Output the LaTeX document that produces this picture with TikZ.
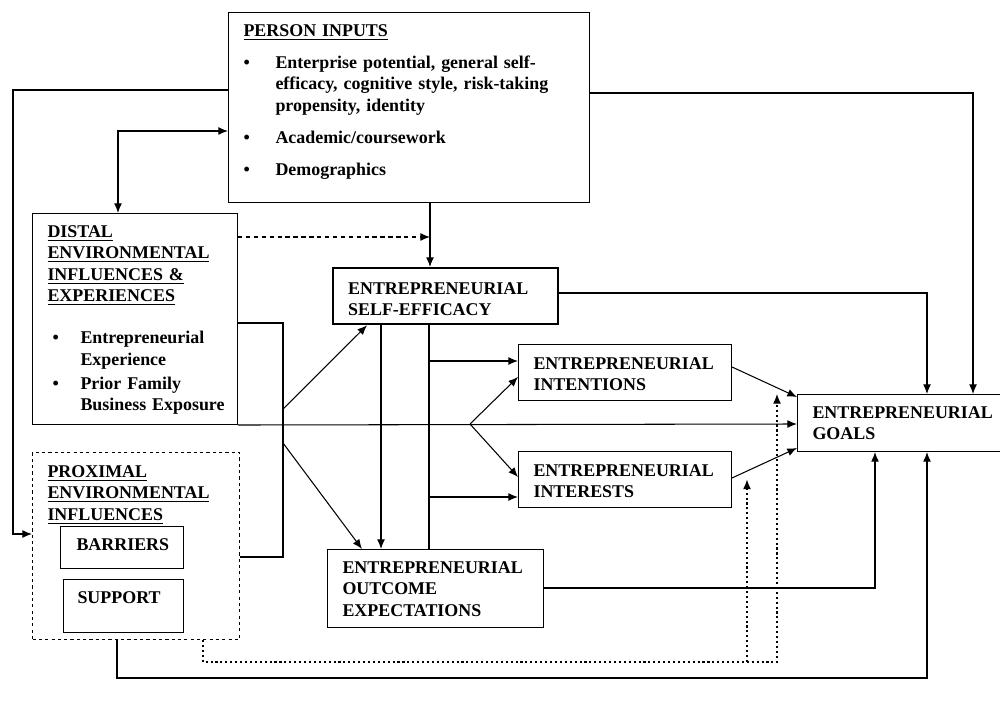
\documentclass[tikz,border=0pt]{standalone}
\usepackage{fontspec}
\setmainfont{Liberation Serif}
\usetikzlibrary{arrows.meta}
\newcommand{\blt}[1]{\makebox[#1][l]{\textbullet}}

\begin{document}
\begin{tikzpicture}[x = 0.02cm, y = -0.02cm, line width = 0.6pt,
  >={Latex[length=5.5pt,width=4.5pt]},
  block/.style = {draw, anchor = north west, align = left, inner xsep = 0.3cm, inner ysep = 0pt,
    font = \bfseries\fontsize{10.2}{12.2}\selectfont},
  dotbox/.style = {block, dash pattern = on 1.8pt off 1.8pt},
  dashlink/.style = {->, dash pattern = on 2.5pt off 2pt},
  feedback/.style = {->, dash pattern = on 1.2pt off 1.6pt}]
\useasboundingbox (0,0) rectangle (1000,709);

\node [block, text width = 6.62cm, text height = 0.48cm, text depth = 3.32cm] (p_in) at (228,12)
  {\underline{PERSON INPUTS}\\[0.21cm]
   \blt{0.64cm}Enterprise potential, general self-\\
   \hspace*{0.64cm}efficacy, cognitive style, risk-taking\\
   \hspace*{0.64cm}propensity, identity\\[0.21cm]
   \blt{0.64cm}Academic/coursework\\[0.22cm]
   \blt{0.64cm}Demographics};
\node [block, text width = 3.5cm, text height = 0.48cm, text depth = 3.74cm] (d_env) at (32,213)
  {\underline{DISTAL}\\ \underline{ENVIRONMENTAL}\\ \underline{INFLUENCES \&}\\ \underline{EXPERIENCES}\\[0.41cm]
   \hspace*{0.1cm}\blt{0.56cm}Entrepreneurial\\
   \hspace*{0.66cm}Experience\\[0.05cm]
   \hspace*{0.1cm}\blt{0.56cm}\mbox{Prior Family}\\
   \hspace*{0.66cm}\mbox{Business Exposure}};
\node [dotbox, text width = 3.54cm, text height = 0.5cm, text depth = 3.24cm] (p_env) at (32,452)
  {\underline{PROXIMAL}\\ \underline{ENVIRONMENTAL}\\ \underline{INFLUENCES}};
\node [block, inner xsep = 0.32cm, text width = 1.82cm, text height = 0.48cm, text depth = 0.36cm] (barr) at (60,526) {BARRIERS};
\node [block, inner xsep = 0.28cm, text width = 1.84cm, text height = 0.48cm, text depth = 0.58cm] (supp) at (63,579) {SUPPORT};
\node [block, line width = 1.3pt, text width = 3.9cm, text height = 0.52cm, text depth = 0.6cm] (e_se) at (332,267)
  {ENTREPRENEURIAL\\ SELF-EFFICACY};
\node [block, text width = 3.66cm, text height = 0.5cm, text depth = 0.62cm] (e_int) at (518,344)
  {ENTREPRENEURIAL\\ INTENTIONS};
\node [block, text width = 3.66cm, text height = 0.5cm, text depth = 0.62cm] (e_inr) at (518,451)
  {ENTREPRENEURIAL\\ INTERESTS};
\node [block, text width = 3.52cm, text height = 0.48cm, text depth = 0.66cm] (e_goal) at (797,394)
  {ENTREPRENEURIAL\\ GOALS};
\node [block, text width = 3.72cm, text height = 0.48cm, text depth = 1.08cm] (e_oe) at (327,549)
  {ENTREPRENEURIAL\\ OUTCOME\\ EXPECTATIONS};

% person inputs
\draw [->] (p_in.west |- 0,90) -- (13,90) |- (p_env.west |- 0,534);
\draw [<->] (p_in.west |- 0,131) -| (118,0 |- d_env.north);
\draw [->] (p_in.east |- 0,93) -| (973,0 |- e_goal.north);
\draw [->] (430,0 |- p_in.south) -- (430,0 |- e_se.north);
\draw [dashlink] (d_env.east |- 0,237) -- (430,237);

% environment
\draw (d_env.east |- 0,323) -| (283,557) -- (p_env.east |- 0,557);
\draw [->] (283,409) -- (367,0 |- e_se.south);
\draw [->] (d_env.south east) -- (e_goal.west |- 0,424);
\draw [->] (283,443) -- (362,0 |- e_oe.north);

% self-efficacy and the rest
\draw [->] (381,0 |- e_se.south) -- (381,0 |- e_oe.north);
\draw (429,0 |- e_se.south) -- (429,0 |- e_oe.north);
\draw [->] (429,361) -- (e_int.west |- 0,361);
\draw [->] (429,497) -- (e_inr.west |- 0,497);
\draw [->] (e_se.east |- 0,293) -| (927,0 |- e_goal.north);
\coordinate (fork) at (470,424);
\draw [->] (fork) -- (e_int.west |- 0,377);
\draw [->] (fork) -- (e_inr.west |- 0,477);
\draw [->] (e_int.east |- 0,367) -- (e_goal.west |- 0,397);
\draw [->] (e_inr.east |- 0,478) -- (e_goal.west |- 0,448);
\draw [->] (e_oe.east |- 0,588) -| (875,0 |- e_goal.south);

% feedback
\draw [->] (117,0 |- p_env.south) |- (927,678) -- (927,0 |- e_goal.south);
\draw [feedback] (203,0 |- p_env.south) |- (777,662) -- (777,0 |- e_goal.north);
\draw [feedback] (747,662) -- (747,0 |- e_inr.east);
\end{tikzpicture}
\end{document}
